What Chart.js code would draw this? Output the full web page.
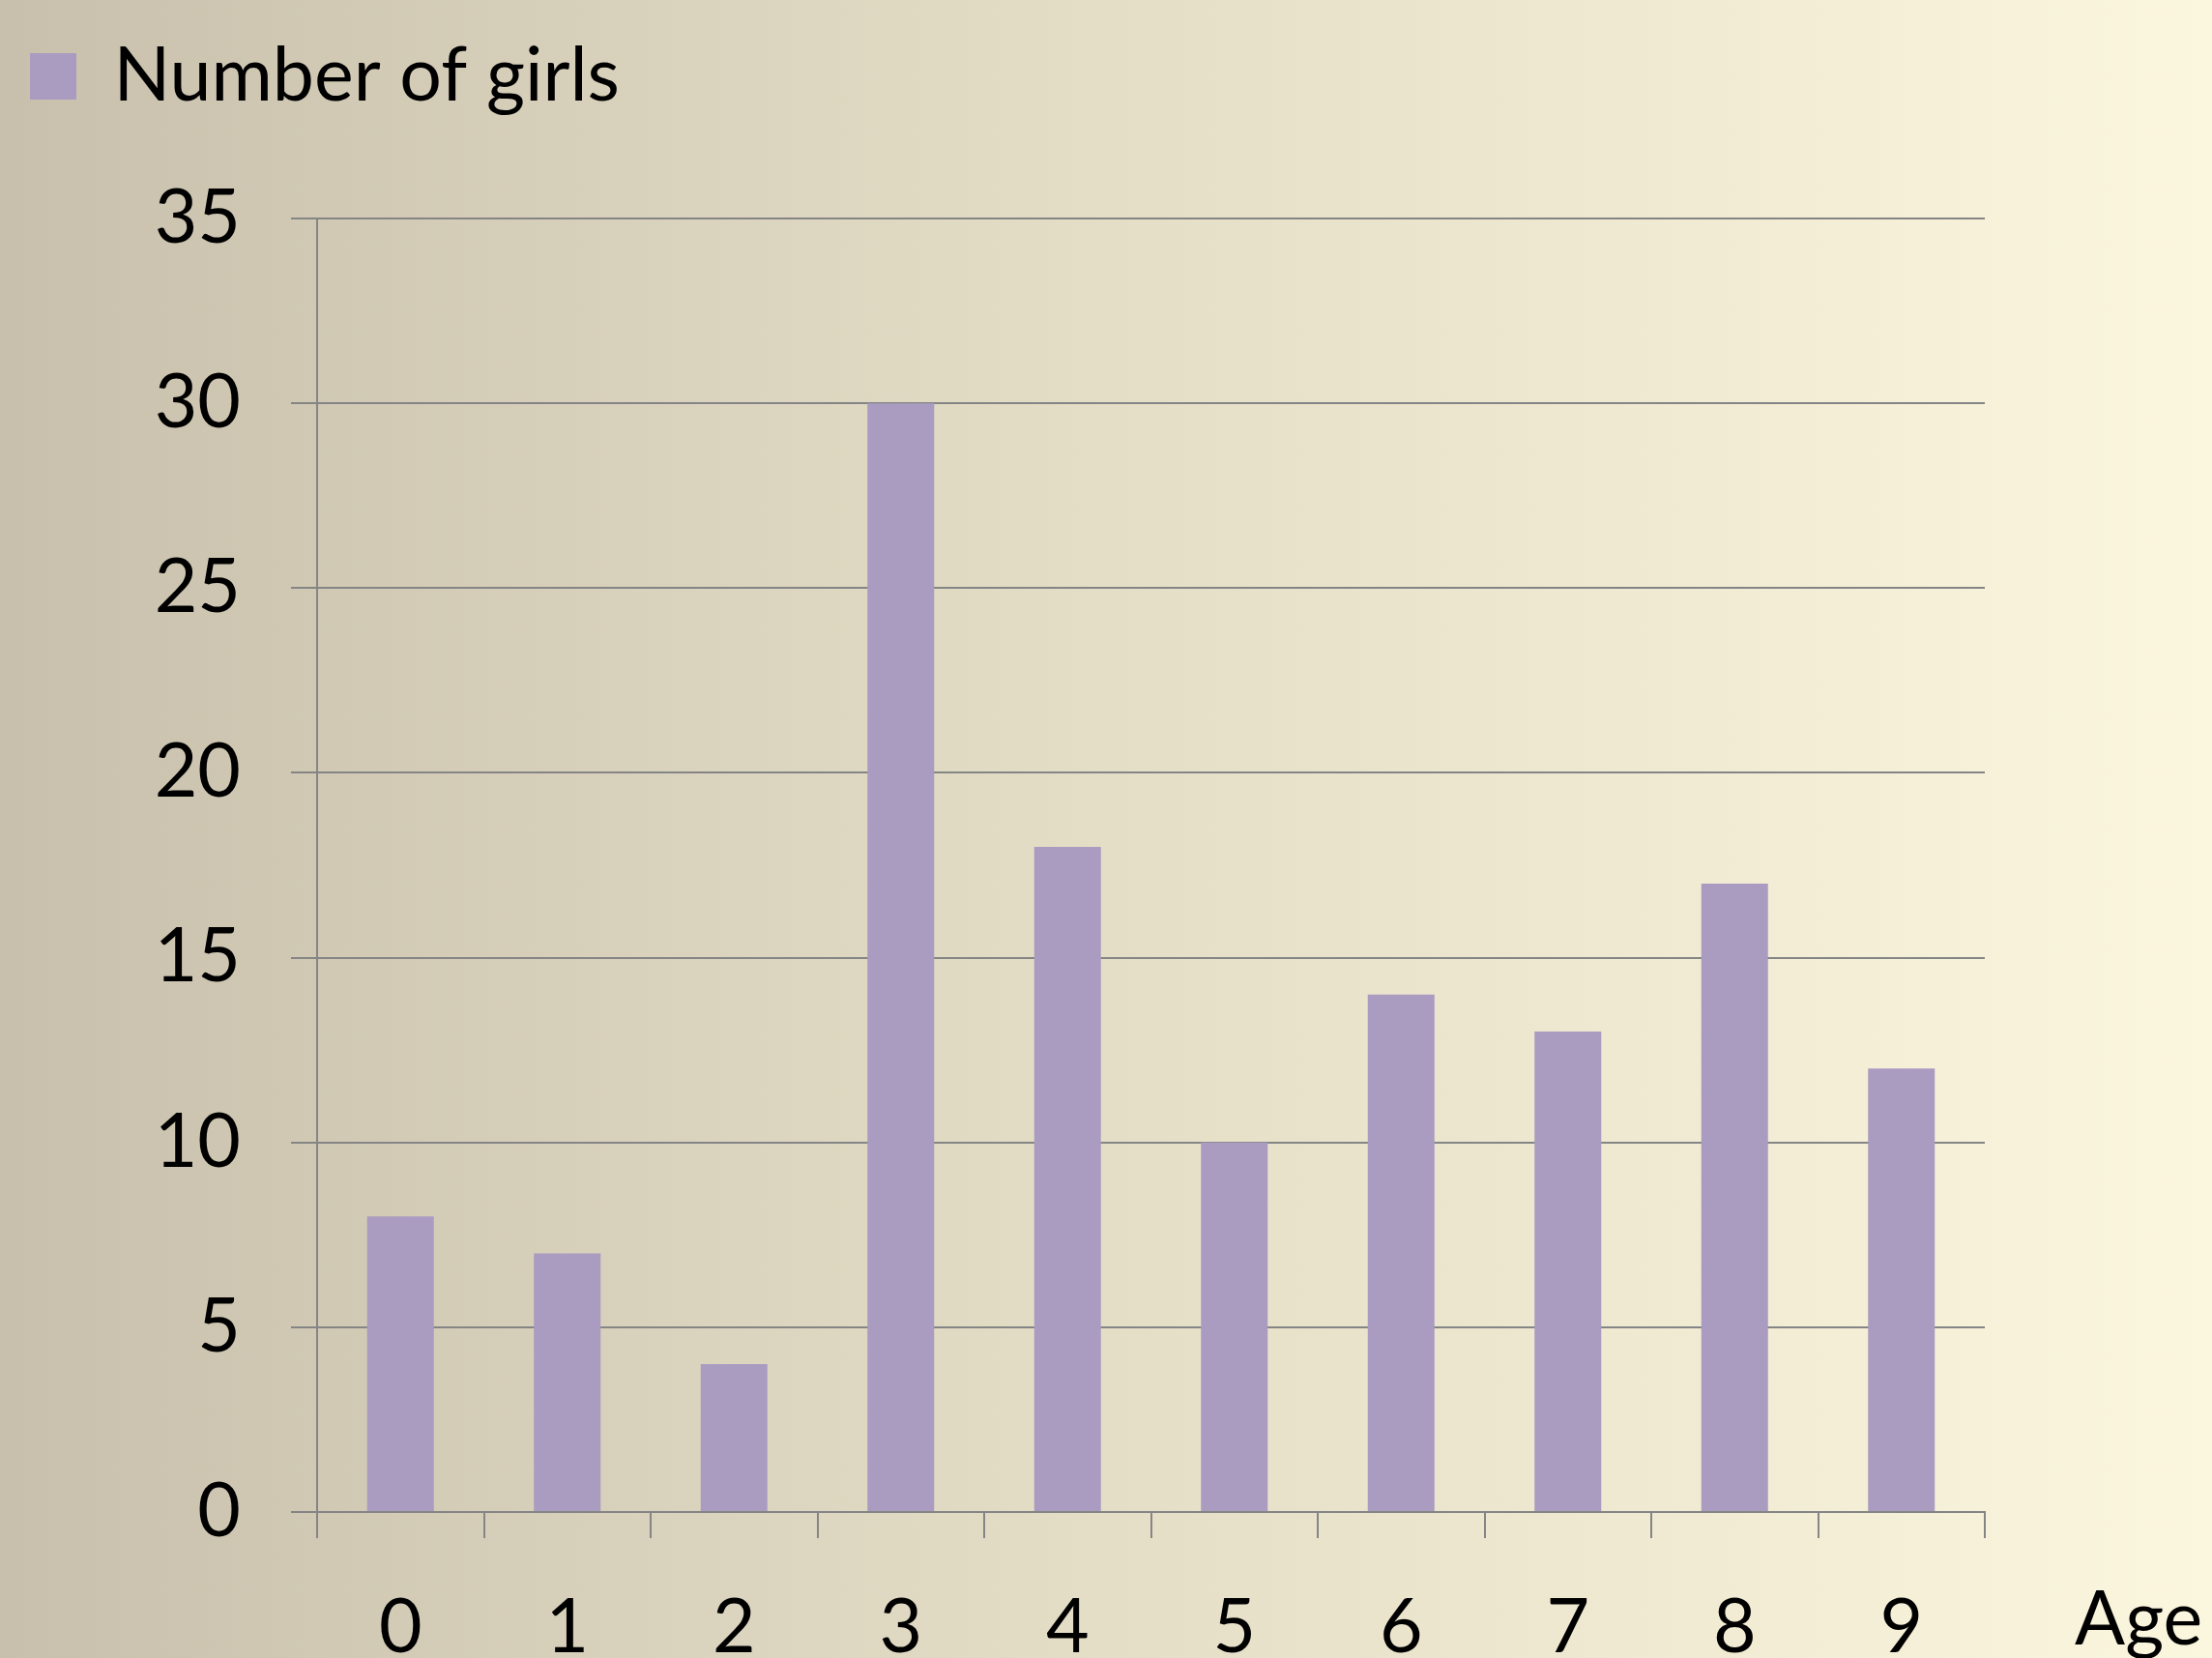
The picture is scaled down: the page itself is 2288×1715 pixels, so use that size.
<!DOCTYPE html>
<html>
<head>
<meta charset="utf-8">
<script src="https://cdn.jsdelivr.net/npm/chart.js@4/dist/chart.umd.min.js"></script>
<style>
html,body{margin:0;padding:0;overflow:hidden;background:#e4ddc6}
#wrap{width:2288px;height:1715px}
canvas{display:block}
</style>
</head>
<body>
<div id="wrap"><canvas id="c" width="2288" height="1715"></canvas></div>
<script>
const ages = ['0','1','2','3','4','5','6','7','8','9'];
const girls = [8, 7, 4, 30, 18, 10, 14, 13, 17, 12];
const yTickValues = [0, 5, 10, 15, 20, 25, 30, 35];
const seriesName = 'Number of girls';
const xAxisName = 'Age';

const FONT = 'Lato';
const FS = 77;
const GRID = '#858585';

const bgPlugin = {
  id: 'bg',
  beforeDraw(chart) {
    const {ctx, width, height} = chart;
    const g = ctx.createLinearGradient(0, 0, width, 0);
    g.addColorStop(0, '#c8c0ac');
    g.addColorStop(0.5, '#e5dec7');
    g.addColorStop(1, '#fbf6de');
    ctx.save();
    ctx.fillStyle = g;
    ctx.fillRect(0, 0, width, height);
    ctx.restore();
  }
};

const legendHeightPlugin = {
  id: 'legendHeight',
  afterInit(chart) {
    const lg = chart.legend;
    if (!lg) return;
    const orig = lg.fit.bind(lg);
    lg.fit = function() {
      orig();
      this.height = 226 - chart.options.layout.padding.top;
    };
  }
};

const axisNamePlugin = {
  id: 'axisName',
  afterDraw(chart) {
    const {ctx, chartArea} = chart;
    ctx.save();
    ctx.font = FS + 'px ' + FONT;
    ctx.fillStyle = '#000';
    ctx.textAlign = 'left';
    ctx.textBaseline = 'top';
    ctx.fillText(xAxisName, chartArea.right + 93, chartArea.bottom + 27 + 47);
    ctx.restore();
  }
};

new Chart(document.getElementById('c'), {
  type: 'bar',
  data: {
    labels: ages,
    datasets: [{
      label: seriesName,
      data: girls,
      backgroundColor: '#aa9bc1',
      borderWidth: 0,
      barPercentage: 0.4,
      categoryPercentage: 1.0
    }]
  },
  options: {
    responsive: false,
    animation: false,
    devicePixelRatio: 1,
    layout: { padding: { left: 0, right: 235, top: 9.5, bottom: 0 } },
    plugins: {
      legend: {
        display: true,
        position: 'top',
        align: 'start',
        labels: {
          font: { family: FONT, size: FS },
          color: '#000',
          boxWidth: 48,
          boxHeight: 48,
          padding: 31
        }
      },
      tooltip: { enabled: false }
    },
    scales: {
      x: {
        grid: {
          display: true,
          drawOnChartArea: false,
          drawTicks: true,
          tickLength: 27,
          offset: true,
          color: GRID,
          lineWidth: 2
        },
        border: { display: true, color: GRID, width: 2 },
        ticks: {
          font: { family: FONT, size: FS },
          color: '#000',
          padding: 47,
          maxRotation: 0
        },
        afterFit(scale) { scale.height = 151; }
      },
      y: {
        min: 0,
        max: 35,
        afterBuildTicks(scale) { scale.ticks = yTickValues.map(v => ({ value: v })); },
        grid: {
          color: GRID,
          lineWidth: 2,
          tickLength: 27,
          drawTicks: true
        },
        border: { display: true, color: GRID, width: 2 },
        ticks: {
          font: { family: FONT, size: FS },
          color: '#000',
          padding: 52
        },
        afterFit(scale) { scale.width = 328; }
      }
    }
  },
  plugins: [bgPlugin, legendHeightPlugin, axisNamePlugin]
});
</script>
</body>
</html>
